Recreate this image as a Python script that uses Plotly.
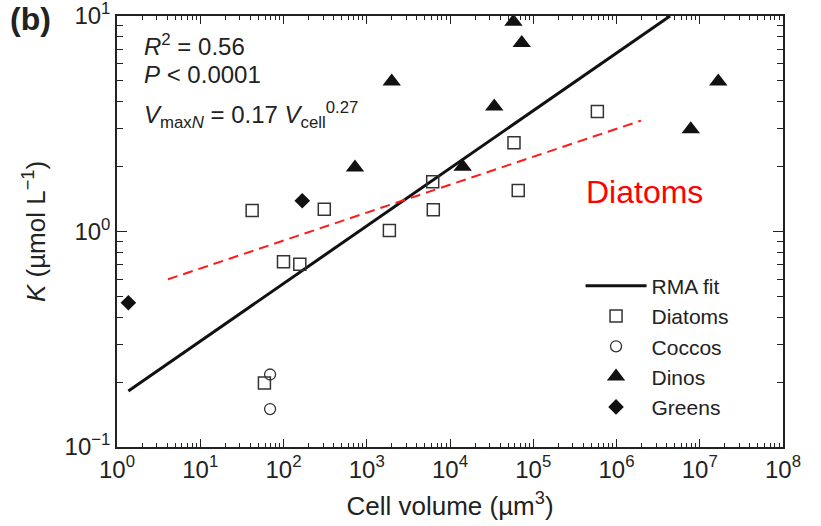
import plotly.graph_objects as go

# ---- data ----
diatoms_v = [42, 100, 157, 309, 1870, 6200, 6300, 58700, 66000, 589000, 59]
diatoms_k = [1.25, 0.724, 0.705, 1.27, 1.01, 1.70, 1.26, 2.58, 1.55, 3.6, 0.198]

coccos_v = [69, 69]
coccos_k = [0.217, 0.150]

dinos_v = [722, 1995, 14200, 34000, 57800, 72700, 7.8e6, 1.67e7]
dinos_k = [1.98, 4.96, 2.0, 3.8, 9.4, 7.5, 2.98, 4.96]

greens_v = [1.37, 168]
greens_k = [0.467, 1.39]

rma_v = [1.37, 4.4e6]
rma_k = [0.182, 10.0]

diatom_fit_v = [4.1, 1.97e6]
diatom_fit_k = [0.60, 3.27]

x_tickvals = [1, 10, 100, 1e3, 1e4, 1e5, 1e6, 1e7, 1e8]
x_ticktext = ["10<sup>0</sup>", "10<sup>1</sup>", "10<sup>2</sup>", "10<sup>3</sup>",
              "10<sup>4</sup>", "10<sup>5</sup>", "10<sup>6</sup>", "10<sup>7</sup>",
              "10<sup>8</sup>"]
y_tickvals = [0.1, 1, 10]
y_ticktext = ["10<sup>\u22121</sup>", "10<sup>0</sup>", "10<sup>1</sup>"]

x_minor = [m * 10 ** e for e in range(0, 8) for m in range(2, 10)]
y_minor = [m * 10 ** e for e in (-1, 0) for m in range(2, 10)]

FONT = "Arial, Liberation Sans, Helvetica, sans-serif"
INK = "#222222"
TXT = 24
TITLE = 26

fig = go.Figure()

fig.add_trace(go.Scatter(
    x=rma_v, y=rma_k, mode="lines", name="RMA fit",
    line=dict(color="#111111", width=3), legendgroup="a"))

fig.add_trace(go.Scatter(
    x=diatom_fit_v, y=diatom_fit_k, mode="lines", showlegend=False,
    line=dict(color="#ff1a1a", width=2, dash="10px,6px")))

fig.add_trace(go.Scatter(
    x=diatoms_v, y=diatoms_k, mode="markers", name="Diatoms", legendgroup="b",
    cliponaxis=False,
    marker=dict(symbol="square-open", size=12, color="#333333",
                line=dict(width=1.5, color="#333333"))))

fig.add_trace(go.Scatter(
    x=coccos_v, y=coccos_k, mode="markers", name="Coccos", legendgroup="c",
    cliponaxis=False,
    marker=dict(symbol="circle-open", size=11, color="#333333",
                line=dict(width=1.3, color="#333333"))))

fig.add_trace(go.Scatter(
    x=dinos_v, y=dinos_k, mode="markers", name="Dinos", legendgroup="d",
    cliponaxis=False,
    marker=dict(symbol="triangle-up", size=16, color="#111111",
                line=dict(width=0))))

fig.add_trace(go.Scatter(
    x=greens_v, y=greens_k, mode="markers", name="Greens", legendgroup="e",
    cliponaxis=False,
    marker=dict(symbol="diamond", size=12, color="#111111",
                line=dict(width=0))))

axis_common = dict(
    type="log", showgrid=False, zeroline=False, automargin=False,
    showline=True, linecolor=INK, linewidth=1.5, mirror="allticks",
    ticks="inside", tickcolor=INK, tickwidth=1.2,
    ticklabeloverflow="allow",
    tickfont=dict(family=FONT, size=TXT, color="#222222"),
)

fig.update_xaxes(
    **axis_common, range=[0, 8], ticklen=8,
    tickmode="array", tickvals=x_tickvals, ticktext=x_ticktext,
    minor=dict(tickmode="array", tickvals=x_minor, ticks="inside",
               ticklen=4, tickcolor=INK, tickwidth=1.1),
    title=dict(text="Cell volume (\u00b5m<sup>3</sup>)",
               font=dict(family=FONT, size=TITLE, color="#222222")),
)
fig.update_yaxes(
    **axis_common, range=[-1, 1], ticklen=10,
    tickmode="array", tickvals=y_tickvals, ticktext=y_ticktext,
    minor=dict(tickmode="array", tickvals=y_minor, ticks="inside",
               ticklen=6, tickcolor=INK, tickwidth=1.1),
    title=dict(text="<i>K</i> (\u00b5mol L<sup>\u22121</sup>)",
               font=dict(family=FONT, size=TITLE, color="#222222"),
               standoff=12),
)

ann_font = dict(family=FONT, size=TXT, color="#222222")
fig.add_annotation(xref="paper", yref="paper", x=0.038, y=0.933, xanchor="left",
                   yanchor="middle", showarrow=False, font=ann_font,
                   text="<i>R</i><sup>2</sup> = 0.56")
fig.add_annotation(xref="paper", yref="paper", x=0.038, y=0.865, xanchor="left",
                   yanchor="middle", showarrow=False, font=ann_font,
                   text="<i>P</i> &lt; 0.0001")
fig.add_annotation(xref="paper", yref="paper", x=0.038, y=0.77, xanchor="left",
                   yanchor="middle", showarrow=False, font=ann_font,
                   text="<i>V</i><sub>max<i>N</i></sub> = 0.17 <i>V</i><sub>cell</sub><sup>0.27</sup>")
fig.add_annotation(xref="paper", yref="paper", x=-0.163, y=0.992, xanchor="left",
                   yanchor="middle", showarrow=False,
                   font=dict(family=FONT, size=32, color="#222222"),
                   text="<b>(b)</b>")
fig.add_annotation(xref="x", yref="y", x=6.34, y=0.183, xanchor="center",
                   yanchor="middle", showarrow=False,
                   font=dict(family=FONT, size=32, color="#ff0000"),
                   text="Diatoms")

fig.update_layout(
    width=821, height=526,
    margin=dict(l=117, r=38, t=16, b=79),
    paper_bgcolor="white", plot_bgcolor="white",
    showlegend=True,
    legend=dict(x=0.696, y=0.421, xanchor="left", yanchor="top",
                bgcolor="rgba(0,0,0,0)", tracegroupgap=0,
                font=dict(family=FONT, size=21, color="#222222"),
                itemwidth=61),
)

# remove the default 8px page margin so the figure fills the window exactly
fig.write_html("out.html", config={"displayModeBar": False},
               post_script="document.body.style.margin='0px';")
